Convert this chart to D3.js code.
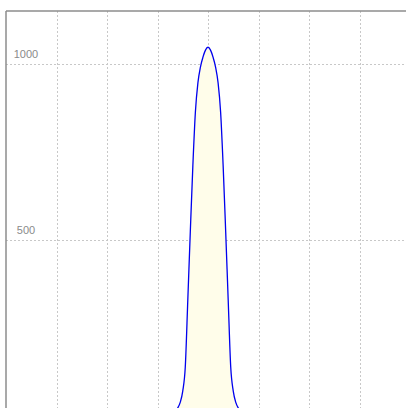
<!DOCTYPE html>
<html>
<head>
<meta charset="utf-8">
<script src="https://cdn.jsdelivr.net/npm/d3@7"></script>
<style>
  html, body { margin: 0; padding: 0; background: #fff; }
  svg { display: block; }
</style>
</head>
<body>
<svg id="chart" width="406" height="408"></svg>
<script>
// Sampled density curve (x in grid units, y in counts)
const xValues = [2.8, 3.0, 3.2, 3.25, 3.3, 3.35, 3.4, 3.45, 3.5, 3.55, 3.6, 3.65, 3.7, 3.75, 3.8, 3.85, 3.9, 3.95, 4.0,
                 4.05, 4.1, 4.15, 4.2, 4.25, 4.3, 4.35, 4.4, 4.45, 4.5, 4.55, 4.6, 4.65, 4.7, 4.75, 4.8, 5.0, 5.2];
const yValues = [0, 0, 1, 3, 6, 14, 24, 40, 72, 140, 330, 525, 710, 862, 945, 990, 1018, 1038, 1046,
                 1038, 1018, 990, 945, 862, 710, 525, 330, 140, 72, 40, 24, 14, 6, 3, 1, 0, 0];
const yTicks = [500, 1000];
const xGrid = [1, 2, 3, 4, 5, 6, 7];

const svg = d3.select("#chart");
const plotLeft = 6, plotTop = 11;

const x = d3.scaleLinear().domain([0, 8]).range([plotLeft, plotLeft + 404]);
const y = d3.scaleLinear().domain([0, 1000]).range([416.5, 63.5]);

const data = xValues.map((v, i) => ({ x: v, y: yValues[i] }));

// grid
svg.append("g").selectAll("line").data(xGrid).join("line")
  .attr("x1", d => Math.round(x(d)) + 0.5).attr("x2", d => Math.round(x(d)) + 0.5)
  .attr("y1", plotTop).attr("y2", 408)
  .attr("stroke", "#c8c8c8").attr("stroke-dasharray", "2,2");

svg.append("g").selectAll("line").data(yTicks).join("line")
  .attr("x1", plotLeft).attr("x2", 406)
  .attr("y1", d => Math.round(y(d)) + 0.5).attr("y2", d => Math.round(y(d)) + 0.5)
  .attr("stroke", "#c8c8c8").attr("stroke-dasharray", "2,2");

// area + curve
const area = d3.area().x(d => x(d.x)).y0(y(0)).y1(d => y(d.y)).curve(d3.curveMonotoneX);
const line = d3.line().x(d => x(d.x)).y(d => y(d.y)).curve(d3.curveMonotoneX);

svg.append("path").datum(data).attr("d", area).attr("fill", "#fffdea");
svg.append("path").datum(data).attr("d", line)
  .attr("fill", "none").attr("stroke", "#0000ee").attr("stroke-width", 1.3);

// frame
svg.append("line").attr("x1", plotLeft).attr("x2", 406).attr("y1", plotTop).attr("y2", plotTop)
  .attr("stroke", "#8c8c8c").attr("stroke-width", 1.5);
svg.append("line").attr("x1", plotLeft).attr("x2", plotLeft).attr("y1", plotTop).attr("y2", 408)
  .attr("stroke", "#8c8c8c").attr("stroke-width", 1.5);

// tick labels
svg.append("g").selectAll("text").data(yTicks).join("text")
  .attr("x", 26).attr("y", d => y(d) - 6)
  .attr("text-anchor", "middle")
  .attr("font-family", "Liberation Sans, Arial, sans-serif")
  .attr("font-size", 11)
  .attr("fill", "#8a8a8a")
  .text(d => d);
</script>
</body>
</html>
